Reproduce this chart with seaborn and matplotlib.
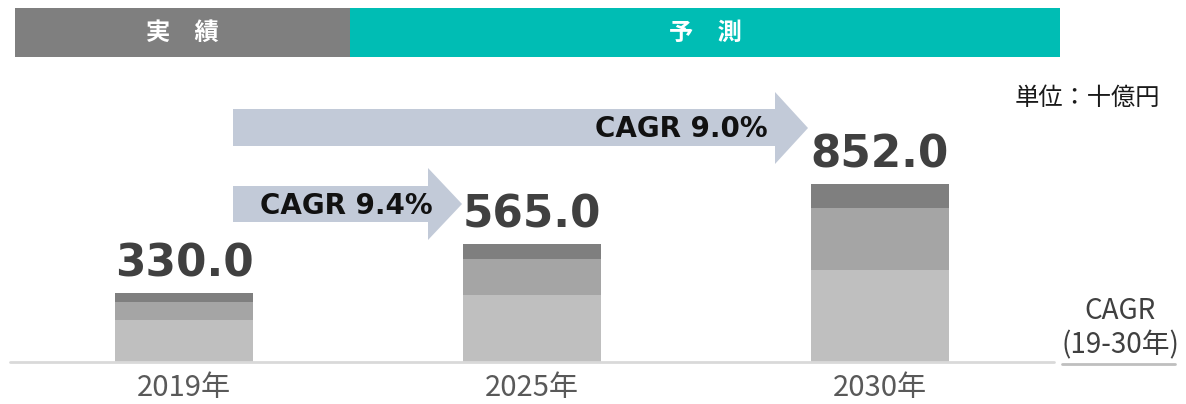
import matplotlib
matplotlib.use("Agg")
import matplotlib.pyplot as plt
from matplotlib.patches import Rectangle, Polygon
import seaborn as sns
import pandas as pd

# データ（単位：十億円）
years = ["2019年", "2025年", "2030年"]
seg_light = [200, 320, 440]
seg_mid = [88, 171, 298]
seg_dark = [42, 74, 114]
totals = [330.0, 565.0, 852.0]
cagr_labels = ["CAGR 9.4%", "CAGR 9.0%"]

sns.set_theme(style="white")
plt.rcParams["font.family"] = ["Noto Sans CJK JP", "DejaVu Sans"]

W, H = 1186, 404
fig = plt.figure(figsize=(W / 100, H / 100), dpi=100)

# ピクセル座標の重ね用
ov = fig.add_axes([0, 0, 1, 1], zorder=0)
ov.set_xlim(0, W)
ov.set_ylim(H, 0)
ov.axis("off")

ax = fig.add_axes([10 / W, 42 / H, 1044 / W, 302 / H], zorder=1)
ax.patch.set_alpha(0)

df = pd.DataFrame({"year": years, "light": seg_light, "mid": seg_mid, "dark": seg_dark})
df["c1"] = df["light"]
df["c2"] = df["light"] + df["mid"]
df["c3"] = df["c2"] + df["dark"]

for col, c in [("c3", "#7f7f7f"), ("c2", "#a5a5a5"), ("c1", "#bfbfbf")]:
    sns.barplot(data=df, x="year", y=col, color=c, width=0.397, saturation=1,
                linewidth=0, ax=ax)

ax.set_xlim(-0.5, 2.5)
ax.set_ylim(0, 1445)
ax.axhline(0, color="#d9d9d9", lw=2, clip_on=False)
for s in ax.spines.values():
    s.set_visible(False)
ax.set_yticks([])
ax.set_xlabel("")
ax.set_ylabel("")
ax.tick_params(axis="x", length=0, pad=8, labelsize=21, labelcolor="#595959")

for i, t in enumerate(totals):
    ax.text(i, t + 80, f"{t:.1f}", ha="center", va="baseline", fontsize=31.5,
            fontweight="bold", color="#404040", family="DejaVu Sans")

# ヘッダー
ov.add_patch(Rectangle((15, 8), 335, 49, color="#7f7f7f", lw=0))
ov.add_patch(Rectangle((350, 8), 710, 49, color="#00bdb4", lw=0))
ov.text(182, 33, "実　績", ha="center", va="center", color="white", fontsize=17.5, fontweight="bold")
ov.text(705, 33, "予　測", ha="center", va="center", color="white", fontsize=17.5, fontweight="bold")

# CAGR 矢印
arrow_col = "#c2cad8"
ov.add_patch(Polygon([(233, 109), (775, 109), (775, 92), (808, 128), (775, 164),
                      (775, 146), (233, 146)], closed=True, color=arrow_col, lw=0))
ov.add_patch(Polygon([(233, 186), (428, 186), (428, 168), (462, 204), (428, 240),
                      (428, 222), (233, 222)], closed=True, color=arrow_col, lw=0))
ov.text(768, 129, cagr_labels[1], ha="right", va="center", fontsize=20,
        fontweight="bold", color="#111111", family="DejaVu Sans")
ov.text(433, 206, cagr_labels[0], ha="right", va="center", fontsize=20,
        fontweight="bold", color="#111111", family="DejaVu Sans")

ov.text(1160, 98, "単位：十億円", ha="right", va="center", fontsize=17.5, color="#1a1a1a")
ov.text(1120, 311, "CAGR", ha="center", va="center", fontsize=20, color="#404040")
ov.text(1120, 345, "(19-30年)", ha="center", va="center", fontsize=20, color="#404040")
ov.plot([1062, 1175], [364, 364], color="#bfbfbf", lw=2)

fig.savefig("out.png", dpi=100)
